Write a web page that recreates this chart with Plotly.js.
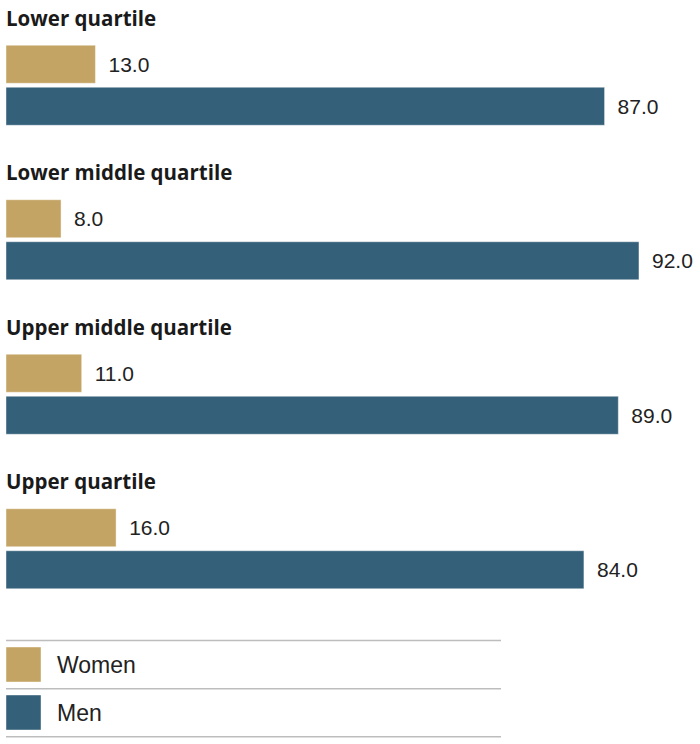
<!DOCTYPE html>
<html>
<head>
<meta charset="utf-8">
<script src="https://cdn.plot.ly/plotly-3.0.1.min.js"></script>
<style>html,body{margin:0;padding:0;background:#fff;}#chart{width:700px;height:744px;}</style>
</head>
<body>
<div id="chart"></div>
<script>
const categories = ["Lower quartile", "Lower middle quartile", "Upper middle quartile", "Upper quartile"];
const women = [13.0, 8.0, 11.0, 16.0];
const men = [87.0, 92.0, 89.0, 84.0];
const seriesNames = ["Women", "Men"];
const colors = ["#c4a464", "#346079"];

const W = 700, H = 744;
const mL = 6, mR = 6, mT = 8, mB = 118;
const plotH = H - mT - mB, plotW = W - mL - mR;
const FONT = "Liberation Sans, Arial, sans-serif";
const TFONT = "Open Sans, Liberation Sans, sans-serif";

function mkTrace(vals, i) {
  return {
    type: "bar", orientation: "h",
    y: categories.map((c, k) => k), x: vals,
    name: seriesNames[i],
    marker: {color: colors[i], line: {color: "rgba(255,255,255,0.7)", width: 0.6}},
    text: vals.map(v => "\u00a0\u2009" + v.toFixed(1)),
    textposition: "outside", cliponaxis: false, constraintext: "none",
    textfont: {family: FONT, size: 21, color: "#222"},
    hoverinfo: "skip", showlegend: false
  };
}

const annotations = categories.map((c, k) => ({
  text: "<b>" + c + "</b>", xref: "paper", yref: "y", x: 0, y: k - 0.437,
  xanchor: "left", yanchor: "middle", showarrow: false, xshift: -2,
  font: {family: TFONT, size: 20.5, color: "#1a1a1a"}
}));

function py2paper(py) { return (H - mB - py) / plotH; }
function px2paper(px) { return (px - mL) / plotW; }

const shapes = [];
[640.5, 688.7, 736.7].forEach(py => shapes.push({
  type: "line", xref: "paper", yref: "paper",
  x0: px2paper(6), x1: px2paper(501), y0: py2paper(py), y1: py2paper(py),
  line: {color: "#bdbdbd", width: 1.5}
}));
const swTop = [647, 695];
seriesNames.forEach((n, i) => {
  shapes.push({
    type: "rect", xref: "paper", yref: "paper",
    x0: px2paper(6), x1: px2paper(41), y0: py2paper(swTop[i]), y1: py2paper(swTop[i] + 35),
    fillcolor: colors[i], line: {color: "rgba(255,255,255,0.7)", width: 0.6}
  });
  annotations.push({
    text: n, xref: "paper", yref: "paper", x: px2paper(57), y: py2paper(swTop[i] + 17.5),
    xanchor: "left", yanchor: "middle", showarrow: false, xshift: -2,
    font: {family: FONT, size: 23, color: "#222"}
  });
});

const layout = {
  width: W, height: H,
  margin: {l: mL, r: mR, t: mT, b: mB, pad: 0},
  paper_bgcolor: "#fff", plot_bgcolor: "#fff",
  barmode: "group", bargap: 0.456, bargroupgap: 0.095,
  xaxis: {range: [0, 100], visible: false, fixedrange: true},
  yaxis: {range: [3.5, -0.5], visible: false, fixedrange: true, type: "linear"},
  showlegend: false,
  annotations: annotations, shapes: shapes
};

Plotly.newPlot("chart", [mkTrace(women, 0), mkTrace(men, 1)], layout, {displayModeBar: false, staticPlot: true});
</script>
</body>
</html>
